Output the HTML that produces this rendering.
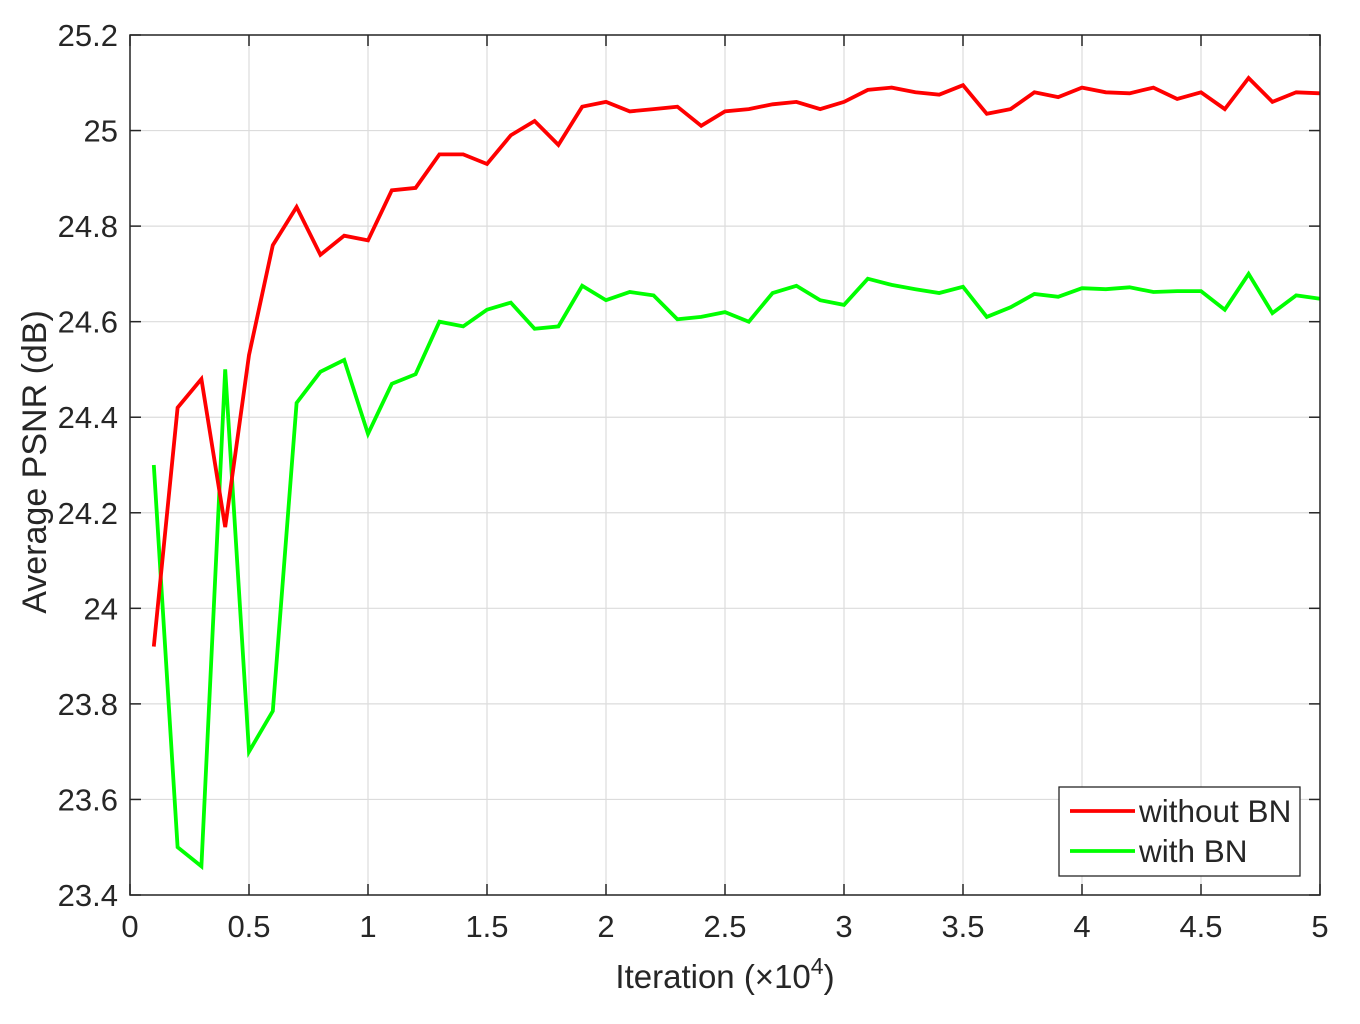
<!DOCTYPE html>
<html><head><meta charset="utf-8"><style>
html,body{margin:0;padding:0;background:#fff;}
svg text{font-family:"Liberation Sans",Arial,sans-serif;fill:#262626;}
</style></head><body>
<svg id="chart" width="1360" height="1019" xmlns="http://www.w3.org/2000/svg">
<rect width="1360" height="1019" fill="#fff"/>
<g id="grid"></g>
<g id="series"></g>
<rect x="130" y="35" width="1190" height="860" fill="none" stroke="#262626" stroke-width="1.5"/>
<g id="ticks"></g>
<text x="725" y="988" font-size="33" text-anchor="middle">Iteration (×10<tspan dy="-14" font-size="23">4</tspan><tspan dy="14">)</tspan></text>
<text transform="translate(46,462) rotate(-90)" font-size="34" text-anchor="middle">Average PSNR (dB)</text>
<g>
<rect x="1059" y="787" width="241" height="89" fill="#fff" stroke="#262626" stroke-width="1.3"/>
<g>
<line x1="1070" y1="811" x2="1135" y2="811" stroke="#ff0000" stroke-width="3.8"/>
<text x="1139" y="822" font-size="31.5">without BN</text></g>
<g>
<line x1="1070" y1="851" x2="1135" y2="851" stroke="#00ff00" stroke-width="3.8"/>
<text x="1139" y="862" font-size="31.5">with BN</text></g>
</g>
</svg>
<script>
const xTicks=[0,0.5,1,1.5,2,2.5,3,3.5,4,4.5,5];
const xTickLabels=["0","0.5","1","1.5","2","2.5","3","3.5","4","4.5","5"];
const yTicks=[23.4,23.6,23.8,24,24.2,24.4,24.6,24.8,25,25.2];
const yTickLabels=["23.4","23.6","23.8","24","24.2","24.4","24.6","24.8","25","25.2"];
const iterations=[0.1,0.2,0.3,0.4,0.5,0.6,0.7,0.8,0.9,1.0,1.1,1.2,1.3,1.4,1.5,1.6,1.7,1.8,1.9,2.0,2.1,2.2,2.3,2.4,2.5,2.6,2.7,2.8,2.9,3.0,3.1,3.2,3.3,3.4,3.5,3.6,3.7,3.8,3.9,4.0,4.1,4.2,4.3,4.4,4.5,4.6,4.7,4.8,4.9,5.0];
const withoutBN=[23.92,24.42,24.48,24.17,24.53,24.76,24.84,24.74,24.78,24.77,24.875,24.88,24.95,24.95,24.93,24.99,25.02,24.97,25.05,25.06,25.04,25.045,25.05,25.01,25.04,25.045,25.055,25.06,25.045,25.06,25.085,25.09,25.08,25.075,25.095,25.035,25.045,25.08,25.07,25.09,25.08,25.078,25.09,25.066,25.08,25.045,25.11,25.06,25.08,25.078];
const withBN=[24.30,23.50,23.46,24.50,23.70,23.785,24.43,24.495,24.52,24.365,24.47,24.49,24.60,24.59,24.625,24.64,24.585,24.59,24.675,24.645,24.662,24.655,24.605,24.61,24.62,24.60,24.66,24.675,24.645,24.635,24.69,24.677,24.668,24.66,24.673,24.61,24.63,24.658,24.652,24.67,24.668,24.672,24.662,24.664,24.664,24.625,24.70,24.618,24.655,24.648];

const X0=130,X1=1320,Y0=895,Y1=35;
function xs(v){return X0+(v-0)/(5-0)*(X1-X0);}
function ys(v){return Y0-(v-23.4)/(25.2-23.4)*(Y0-Y1);}
const NS="http://www.w3.org/2000/svg";
function mk(tag,attrs,parent){const e=document.createElementNS(NS,tag);for(const k in attrs)e.setAttribute(k,attrs[k]);parent.appendChild(e);return e;}
const grid=document.getElementById('grid'),ticks=document.getElementById('ticks'),series=document.getElementById('series');
xTicks.forEach((t,i)=>{
  const x=xs(t);
  const g=mk('line',{x1:x,y1:Y1,x2:x,y2:Y0,stroke:'#dcdcdc','stroke-width':1.2},grid);
  
  
  const tk=mk('line',{x1:x,y1:Y0,x2:x,y2:Y0-11,stroke:'#262626','stroke-width':1.5},ticks);
  
  
  const tk2=mk('line',{x1:x,y1:Y1,x2:x,y2:Y1+11,stroke:'#262626','stroke-width':1.5},ticks);
  
  
  const tx=mk('text',{x:x,y:937,'font-size':31,'text-anchor':'middle'},ticks);
  tx.textContent=xTickLabels[i];
  
  
});
yTicks.forEach((t,i)=>{
  const y=ys(t);
  const g=mk('line',{x1:X0,y1:y,x2:X1,y2:y,stroke:'#dcdcdc','stroke-width':1.2},grid);
  
  
  const tk=mk('line',{x1:X0,y1:y,x2:X0+11,y2:y,stroke:'#262626','stroke-width':1.5},ticks);
  
  
  const tk2=mk('line',{x1:X1,y1:y,x2:X1-11,y2:y,stroke:'#262626','stroke-width':1.5},ticks);
  
  
  const tx=mk('text',{x:118,y:y+11,'font-size':31,'text-anchor':'end'},ticks);
  tx.textContent=yTickLabels[i];
  
  
});
function line(vals,color,name){
  const d=vals.map((v,i)=>(i?'L':'M')+xs(iterations[i]).toFixed(1)+' '+ys(v).toFixed(1)).join(' ');
  const p=mk('path',{d:d,fill:'none',stroke:color,'stroke-width':3.8,'stroke-linejoin':'miter'},series);
  
  
}
line(withBN,'#00ff00','line-with-bn');
line(withoutBN,'#ff0000','line-without-bn');
</script>
</body></html>
